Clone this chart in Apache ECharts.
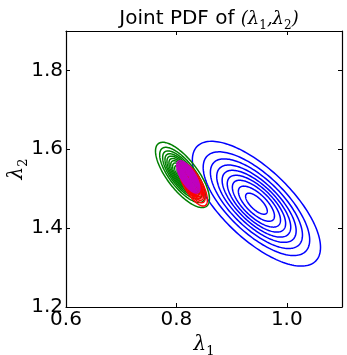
<!DOCTYPE html>
<html><head><meta charset="utf-8">
<script src="https://cdn.jsdelivr.net/npm/echarts@6/dist/echarts.min.js"></script>
<style>html,body{margin:0;padding:0;background:#fff}#c{width:347px;height:355px}</style>
</head><body><div id="c"></div>
<script>
// tick labels
const xTicks = [0.6, 0.8, 1.0];
const yTicks = [1.2, 1.4, 1.6, 1.8];
// four bivariate normal densities (contours)
const seriesColors = ['#0000ff', '#008000', '#ff0000', '#bf00bf'];
const centerX = [0.945, 0.811, 0.830, 0.8215];
const centerY = [1.462, 1.535, 1.511, 1.530];
const sigmaX = [0.0545, 0.0223, 0.0119, 0.0095];
const sigmaY = [0.0743, 0.0378, 0.0251, 0.0186];
const rho = [-0.70, -0.73, -0.72, -0.70];
// contour levels expressed as Mahalanobis radii
const blueLevels = [2.13, 1.77, 1.53, 1.32, 1.14, 0.97, 0.80, 0.60, 0.36];
const greenLevels = [2.19, 1.85, 1.61, 1.42, 1.26, 1.10, 0.95, 0.80, 0.63, 0.44];
const redLevels = [2.19, 1.85, 1.61, 1.42, 1.26, 1.10, 0.95, 0.80, 0.63, 0.44];
const magentaLevels = [2.2, 2.0, 1.85, 1.7, 1.55, 1.42, 1.3, 1.17, 1.05, 0.92, 0.8, 0.66, 0.5, 0.3];
const levelSets = [blueLevels, greenLevels, redLevels, magentaLevels];

const chart = echarts.init(document.getElementById('c'), null, {renderer: 'canvas'});

function makeSeries(i) {
  const data = levelSets[i].map(r => [centerX[i], centerY[i], sigmaX[i], sigmaY[i], r, rho[i]]);
  const color = seriesColors[i];
  return {
    type: 'custom',
    silent: true,
    clip: true,
    encode: {x: 0, y: 1},
    data: data,
    renderItem: function (params, api) {
      const cx = api.value(0), cy = api.value(1), sx = api.value(2), sy = api.value(3);
      const r = api.value(4), rh = api.value(5);
      const k = Math.sqrt(1 - rh * rh);
      const pts = [];
      for (let j = 0; j <= 160; j++) {
        const t = j / 160 * 2 * Math.PI;
        const c = Math.cos(t), s = Math.sin(t);
        pts.push(api.coord([cx + r * sx * c, cy + r * sy * (rh * c + k * s)]));
      }
      return {type: 'polygon', shape: {points: pts}, style: {fill: 'none', stroke: color, lineWidth: 1.5}};
    }
  };
}

const tickFont = {fontFamily: 'DejaVu Sans', fontSize: 20, color: '#000'};
const nameRich = {
  l: {fontFamily: 'DejaVu Serif', fontStyle: 'italic', fontSize: 20, lineHeight: 26, verticalAlign: 'middle', color: '#000'},
  s: {fontFamily: 'DejaVu Serif', fontSize: 13, lineHeight: 10, verticalAlign: 'bottom', color: '#000'}
};
function near(list, v) { return list.some(t => Math.abs(t - v) < 1e-6); }

const frameLine = {show: true, onZero: false, lineStyle: {color: '#000', width: 1.2}};
const tick = {show: true, inside: true, length: 4, lineStyle: {color: '#000', width: 1}};

chart.setOption({
  animation: false,
  backgroundColor: '#fff',
  title: {
    text: '{t|Joint PDF of }{m|(λ}{s|1}{m|,λ}{s|2}{m|)}',
    left: 204, top: 1, textAlign: 'center',
    textStyle: {
      fontWeight: 'normal',
      rich: {
        t: {fontFamily: 'DejaVu Sans', fontWeight: 'normal', fontSize: 20, lineHeight: 26, verticalAlign: 'middle', color: '#000'},
        m: {fontFamily: 'DejaVu Serif', fontWeight: 'normal', fontStyle: 'italic', fontSize: 18, lineHeight: 26, verticalAlign: 'middle', color: '#000'},
        s: {fontFamily: 'DejaVu Serif', fontWeight: 'normal', fontSize: 12, lineHeight: 10, verticalAlign: 'bottom', color: '#000'}
      }
    }
  },
  grid: {left: 66, right: 5, top: 31, bottom: 48, containLabel: false, outerBoundsMode: 'none'},
  xAxis: [{
    type: 'value', min: 0.6, max: 1.1, interval: 0.2, position: 'bottom',
    axisLine: frameLine, axisTick: tick, splitLine: {show: false},
    axisLabel: Object.assign({margin: 3, showMaxLabel: false, formatter: v => near(xTicks, v) ? v.toFixed(1) : ''}, tickFont),
    name: '{l|λ}{s|1}', nameLocation: 'middle', nameGap: 25, nameMoveOverlap: false, nameTextStyle: {rich: nameRich}
  }, {
    type: 'value', min: 0.6, max: 1.1, interval: 0.2, position: 'top',
    axisLine: frameLine, axisTick: tick, splitLine: {show: false}, axisLabel: {show: false}
  }],
  yAxis: [{
    type: 'value', min: 1.2, max: 1.9, interval: 0.2, position: 'left',
    axisLine: frameLine, axisTick: tick, splitLine: {show: false},
    axisLabel: Object.assign({margin: 3, showMaxLabel: false, formatter: v => near(yTicks, v) ? v.toFixed(1) : ''}, tickFont),
    name: '{l|λ}{s|2}', nameLocation: 'middle', nameGap: 36, nameRotate: 90, nameMoveOverlap: false, nameTextStyle: {rich: nameRich}
  }, {
    type: 'value', min: 1.2, max: 1.9, interval: 0.2, position: 'right',
    axisLine: frameLine, axisTick: tick, splitLine: {show: false}, axisLabel: {show: false}
  }],
  series: [0, 1, 2, 3].map(makeSeries)
});
</script>
</body></html>
